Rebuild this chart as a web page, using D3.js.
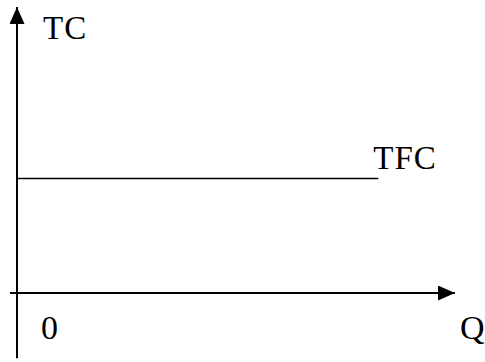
<!DOCTYPE html>
<html>
<head>
<meta charset="utf-8">
<script src="https://cdn.jsdelivr.net/npm/d3@7"></script>
<style>
  body { margin: 0; background: #fff; }
  text { font-family: "Liberation Serif", "Times New Roman", serif; fill: #000; letter-spacing: 1px; }
</style>
</head>
<body>
<div id="chart"></div>
<script>
// TFC is flat: the same cost at every quantity
var tfcQ = [0, 8.25];
var tfcCost = [4, 4];
var axisLabels = { y: "TC", x: "Q", origin: "0", line: "TFC" };

var width = 485, height = 362;

var svg = d3.select("#chart").append("svg")
    .attr("width", width)
    .attr("height", height);

var x = d3.scaleLinear().domain([0, 10]).range([17, 455]);
var y = d3.scaleLinear().domain([0, 10]).range([293, 7]);

// arrow head, about 17 long and 15 wide
svg.append("defs").append("marker")
    .attr("id", "arrow")
    .attr("viewBox", "0 0 17 15")
    .attr("refX", 17).attr("refY", 7.5)
    .attr("markerWidth", 17).attr("markerHeight", 15)
    .attr("markerUnits", "userSpaceOnUse")
    .attr("orient", "auto")
  .append("path")
    .attr("d", "M0,0 L17,7.5 L0,15 Z")
    .attr("fill", "#000");

// axes
svg.append("line")
    .attr("x1", x(0)).attr("y1", y(-2.28))
    .attr("x2", x(0)).attr("y2", y(10))
    .attr("stroke", "#000").attr("stroke-width", 2)
    .attr("marker-end", "url(#arrow)");

svg.append("line")
    .attr("x1", x(-0.16)).attr("y1", y(0))
    .attr("x2", x(10)).attr("y2", y(0))
    .attr("stroke", "#000").attr("stroke-width", 2)
    .attr("marker-end", "url(#arrow)");

// TFC line
var line = d3.line()
    .x(function(d, i) { return x(tfcQ[i]); })
    .y(function(d) { return y(d); });

svg.append("path")
    .datum(tfcCost)
    .attr("d", line)
    .attr("fill", "none")
    .attr("stroke", "#000")
    .attr("stroke-width", 1.5);

// labels
svg.append("text").attr("x", 43).attr("y", 39)
    .attr("font-size", 33).text(axisLabels.y);
svg.append("text").attr("x", x(tfcQ[1]) - 5).attr("y", 169)
    .attr("font-size", 33).text(axisLabels.line);
svg.append("text").attr("x", 41).attr("y", 339)
    .attr("font-size", 34).text(axisLabels.origin);
svg.append("text").attr("x", 460).attr("y", 339)
    .attr("font-size", 34).text(axisLabels.x);
</script>
</body>
</html>
